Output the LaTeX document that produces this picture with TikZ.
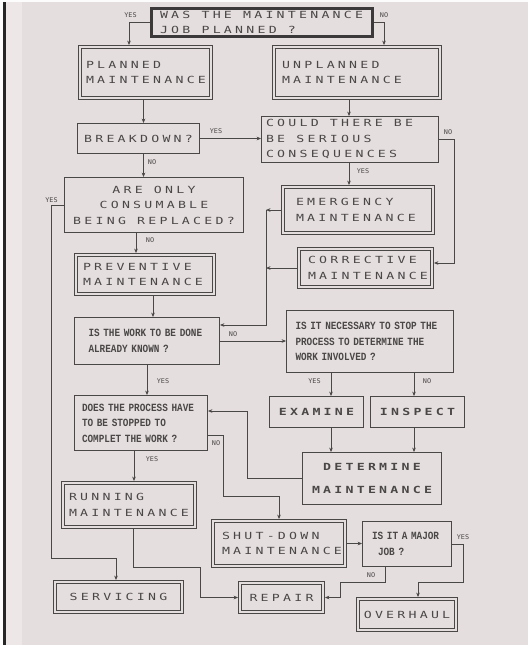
\documentclass[tikz,border=0pt]{standalone}
\usepackage{fontspec}
\usetikzlibrary{arrows.meta}

% printer-style faces
\newfontfamily\dotfont[FakeStretch=1.35,LetterSpace=33]{DejaVu Sans Mono}
\newfontfamily\typefont[FakeStretch=0.85]{Liberation Mono}
\newfontfamily\labelfont[FakeStretch=1.05]{DejaVu Sans Mono}
% one blank character cell between words of the spaced dot-matrix text
\newcommand\gap{\hspace*{11.2pt}}

\definecolor{paper}{HTML}{E5DEDF}
\definecolor{paperlight}{HTML}{EDE7E8}
\definecolor{ink}{HTML}{4A4747}

\tikzset{
  dotf/.style={font={\dotfont\fontsize{9.8}{15.5}\selectfont}, text=ink},
  dotb/.style={font={\dotfont\bfseries\fontsize{9.8}{15.5}\selectfont}, text=ink},
  typef/.style={font=\typefont\bfseries\fontsize{11}{15.5}\selectfont, text=ink},
  sbox/.style={draw=ink, line width=0.8pt, inner ysep=0pt, outer sep=0.4pt},
  dbox/.style={draw=ink, double=paper, double distance=2.2pt, line width=0.75pt,
               inner ysep=0pt, outer sep=1.9pt},
  tbox/.style={draw=ink!80!black, line width=3.2pt, inner ysep=0pt, outer sep=1.6pt},
  conn/.style={draw=ink, line width=0.7pt, -{Stealth[length=4.5pt,width=3.6pt]}},
  lbl/.style={font=\labelfont\fontsize{6.5}{7}\selectfont, text=ink, inner sep=0pt},
}

\begin{document}
\begin{tikzpicture}[x=1pt,y=-1pt]
\useasboundingbox (0,0) rectangle (528,645);

% page
\fill[paper] (0,0) rectangle (528,645);
\fill[paperlight] (5,0) rectangle (22,645);
\fill[black!85] (3,0) rectangle (5.5,645);
\fill[white!92!paper] (0,0) rectangle (3,645);
\fill[white!92!paper] (0,0) rectangle (528,2);

% boxes
\node[tbox, dotf, align=left, text width=204pt, inner xsep=8.5pt, minimum height=28pt]
  (top) at (262,22.5) {WAS\gap THE\gap MAINTENANCE\\JOB\gap PLANNED\gap ?};
\node[dbox, dotf, align=left, text width=119pt, inner xsep=6pt, minimum height=51pt]
  (planned) at (145.5,72.5) {PLANNED\\MAINTENANCE};
\node[dbox, dotf, align=left, text width=150pt, inner xsep=8pt, minimum height=51pt]
  (unplanned) at (357,72.5) {UNPLANNED\\MAINTENANCE};
\node[sbox, dotf, align=center, minimum width=122pt, minimum height=30pt]
  (breakdown) at (138.5,138.5) {BREAKDOWN?};
\node[sbox, dotf, align=left, text width=168pt, inner xsep=4.5pt, minimum height=46pt]
  (could) at (350,139.5) {COULD\gap THERE\gap BE\\BE\gap SERIOUS\\CONSEQUENCES};
\node[sbox, dotf, align=center, text width=175pt, inner xsep=2pt, minimum height=55pt]
  (areonly) at (154,205) {ARE\gap ONLY\\CONSUMABLE\\BEING\gap REPLACED?};
\node[dbox, dotf, align=left, text width=124pt, inner xsep=13pt, minimum height=46pt]
  (emergency) at (358,210) {EMERGENCY\\MAINTENANCE};
\node[dbox, dotf, align=left, text width=124pt, inner xsep=7pt, minimum height=39pt]
  (preventive) at (145,274.5) {PREVENTIVE\\MAINTENANCE};
\node[dbox, dotf, align=left, text width=115pt, inner xsep=9pt, minimum height=38pt]
  (corrective) at (365.5,268) {CORRECTIVE\\MAINTENANCE};
\node[sbox, typef, align=left, text width=117pt, inner xsep=14pt, minimum height=47pt]
  (iswork) at (147,341) {IS THE WORK TO BE DONE\\ALREADY KNOWN ?};
\node[sbox, typef, align=left, text width=149pt, inner xsep=9pt, minimum height=62pt]
  (necessary) at (370,341.5) {IS IT NECESSARY TO STOP THE\\PROCESS TO DETERMINE THE\\WORK INVOLVED ?};
\node[sbox, dotb, align=center, minimum width=94pt, minimum height=31pt]
  (examine) at (316.5,412) {EXAMINE};
\node[sbox, dotb, align=center, minimum width=94pt, minimum height=31pt]
  (inspect) at (417.5,412) {INSPECT};
\node[sbox, font={\dotfont\bfseries\fontsize{9.8}{23}\selectfont}, text=ink,
      align=center, text width=135pt, inner xsep=2pt, minimum height=52pt]
  (determine) at (372,478.5) {DETERMINE\\MAINTENANCE};
\node[sbox, typef, align=left, text width=118pt, inner xsep=7.5pt, minimum height=55pt]
  (does) at (141,423) {DOES THE PROCESS HAVE\\TO BE STOPPED TO\\COMPLET THE WORK ?};
\node[dbox, dotf, align=left, text width=120pt, inner xsep=6pt, minimum height=44pt]
  (running) at (129,505) {RUNNING\\MAINTENANCE};
\node[dbox, dotf, align=left, text width=114pt, inner xsep=9pt, minimum height=45pt]
  (shutdown) at (279,543.5) {SHUT-DOWN\\MAINTENANCE};
\node[sbox, typef, align=left, text width=70pt, inner xsep=9.5pt, minimum height=45pt]
  (major) at (407,544) {IS IT A MAJOR\\\hspace*{6pt}JOB ?};
\node[dbox, dotf, align=center, minimum width=127pt, minimum height=30pt]
  (servicing) at (118.5,597) {SERVICING};
\node[dbox, dotf, align=center, minimum width=83pt, minimum height=29pt]
  (repair) at (281.5,597.5) {REPAIR};
\node[dbox, dotf, align=center, minimum width=98pt, minimum height=31pt]
  (overhaul) at (407,614.5) {OVERHAUL};

% connector lanes and bends
\coordinate (lTopY) at (129,0);
\coordinate (lTopN) at (384,0);
\coordinate (lPl) at (143.5,0);
\coordinate (lUn) at (349,0);
\coordinate (cNo) at (454,263);
\coordinate (cServ) at (51,558);
\coordinate (lServ) at (116,0);
\coordinate (lAre) at (136,0);
\coordinate (lMid) at (266,0);
\coordinate (cJoin) at (266,325);
\coordinate (lPrev) at (153,0);
\coordinate (lExa) at (331,0);
\coordinate (lIns) at (414,0);
\coordinate (cDet) at (247,411);
\coordinate (lIsw) at (147,0);
\coordinate (cDn1) at (223,435);
\coordinate (cDn2) at (279,496);
\coordinate (lDoes) at (134,0);
\coordinate (lRun) at (133,0);
\coordinate (cR1) at (200,567);
\coordinate (cY1) at (463,582);
\coordinate (lOv) at (418,0);
\coordinate (lMajN) at (385,0);
\coordinate (cN2) at (340,582);

% connectors
\draw[conn] (top.west) -| (planned.north -| lTopY);
\draw[conn] (top.east) -| (unplanned.north -| lTopN);
\draw[conn] (planned.south -| lPl) -- (breakdown.north -| lPl);
\draw[conn] (unplanned.south -| lUn) -- (could.north -| lUn);
\draw[conn] (breakdown.east) -- (could.west |- breakdown.east);
\draw[conn] (could.east) -| (cNo) -- (corrective.east |- cNo);
\draw[conn] (breakdown.south -| lPl) -- (areonly.north -| lPl);
\draw[conn] (could.south -| lUn) -- (emergency.north -| lUn);
\draw[conn] (areonly.west) -| (cServ) -| (servicing.north -| lServ);
\draw[conn] (areonly.south -| lAre) -- (preventive.north -| lAre);
\draw[conn] (emergency.west) -- (emergency.west -| lMid);
\draw[conn] (corrective.west) -- (corrective.west -| lMid);
\draw[conn] (emergency.west -| lMid) -- (cJoin) -- (iswork.east |- cJoin);
\draw[conn] (preventive.south -| lPrev) -- (iswork.north -| lPrev);
\draw[conn] (iswork.east) -- (necessary.west |- iswork.east);
\draw[conn] (necessary.south -| lExa) -- (examine.north -| lExa);
\draw[conn] (necessary.south -| lIns) -- (inspect.north -| lIns);
\draw[conn] (examine.south -| lExa) -- (determine.north -| lExa);
\draw[conn] (inspect.south -| lIns) -- (determine.north -| lIns);
\draw[conn] (determine.west) -| (cDet) -- (does.east |- cDet);
\draw[conn] (iswork.south -| lIsw) -- (does.north -| lIsw);
\draw[conn] (does.east |- cDn1) -- (cDn1) |- (cDn2) -- (shutdown.north -| cDn2);
\draw[conn] (does.south -| lDoes) -- (running.north -| lDoes);
\draw[conn] (running.south -| lRun) |- (cR1) |- (repair.west);
\draw[conn] (shutdown.east) -- (major.west |- shutdown.east);
\draw[conn] (major.east) -| (cY1) -| (overhaul.north -| lOv);
\draw[conn] (major.south -| lMajN) |- (cN2) |- (repair.east);

% branch labels
\node[lbl] (yTop) at (130.5,15) {YES};
\node[lbl] (nTop) at (384,15) {NO};
\node[lbl] (yBrk) at (216,131) {YES};
\node[lbl] (nCould) at (448,132) {NO};
\node[lbl] (yCould) at (363,171) {YES};
\node[lbl] (nBrk) at (152,162) {NO};
\node[lbl] (yAre) at (51.5,200) {YES};
\node[lbl] (nAre) at (150,240) {NO};
\node[lbl] (nIsw) at (233,334) {NO};
\node[lbl] (yNec) at (314.5,381) {YES};
\node[lbl] (nNec) at (427,381) {NO};
\node[lbl] (yIsw) at (163,381) {YES};
\node[lbl] (yDoes) at (152,459) {YES};
\node[lbl] (nDoes) at (216,443) {NO};
\node[lbl] (yMaj) at (463,537) {YES};
\node[lbl] (nMaj) at (371,575) {NO};
\end{tikzpicture}
\end{document}
